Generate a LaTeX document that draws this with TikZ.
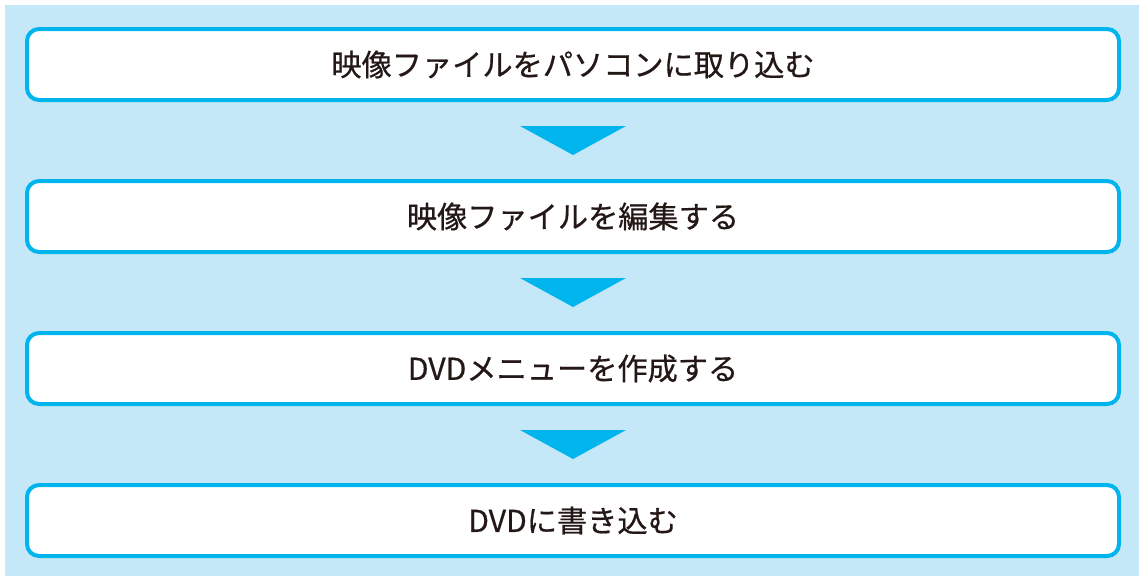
\documentclass[tikz,border=0pt]{standalone}
\usepackage{fontspec}
\newfontfamily\jpfont[FakeBold=0.6]{Noto Sans CJK JP}
\usetikzlibrary{positioning, calc}
\definecolor{paleblue}{HTML}{C5E8F8}
\definecolor{cyanline}{HTML}{00B4EE}
\definecolor{inktext}{HTML}{231815}
\tikzstyle{stepbox} = [rectangle, rounded corners=12pt, minimum width=1092pt, minimum height=71pt, line width=4pt, draw=cyanline, fill=white, text=inktext, font=\jpfont\fontsize{30.2}{36}\selectfont]
\tikzstyle{downarrow} = [fill=cyanline]

\begin{document}
\begin{tikzpicture}[node distance=77pt]
\useasboundingbox (0,0) rectangle (1139pt,-576pt);
\fill[paleblue] (5pt,-5pt) rectangle (1139pt,-576pt);
\node (step1) [stepbox] at (573pt,-64.5pt) {映像ファイルをパソコンに取り込む};
\node (step2) [stepbox, below=of step1] {映像ファイルを編集する};
\node (step3) [stepbox, below=of step2] {DVDメニューを作成する};
\node (step4) [stepbox, below=of step3] {DVDに書き込む};
% arrows between the steps
\foreach \a/\b in {step1/step2, step2/step3, step3/step4}
  \fill[downarrow] ($(\a.south)!0.5!(\b.north)+(-53pt,14.5pt)$) -- ++(106pt,0) -- ($(\a.south)!0.5!(\b.north)+(0,-14.5pt)$) -- cycle;
\end{tikzpicture}
\end{document}
